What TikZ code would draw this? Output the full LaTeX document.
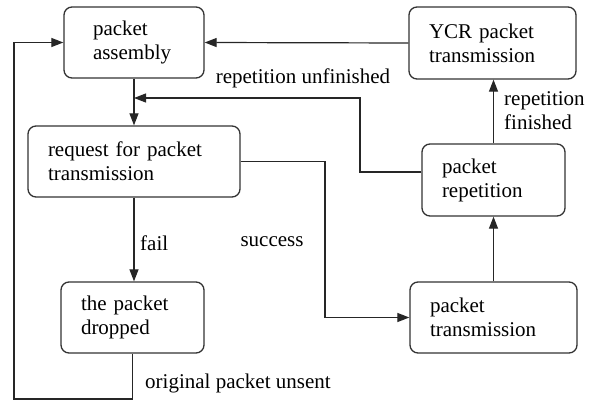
\documentclass[tikz,border=0pt]{standalone}
\usepackage{fontspec}
\setmainfont{Liberation Serif}
\usepackage{tikz}
\usetikzlibrary{arrows.meta, positioning}

\begin{document}
\begin{tikzpicture}[
    x=1pt, y=-1pt,
    blk/.style  ={rectangle, rounded corners=8pt, draw=black!80,
                  line width=1.3pt, fill=white,
                  align=left, inner xsep=20pt, inner ysep=2pt,
                  font=\fontsize{21}{24}\selectfont},
    lbl/.style  ={inner sep=0pt, align=left,
                  font=\fontsize{21}{24}\selectfont},
    arrow/.style={-{Triangle[length=12pt, width=9pt]}, line width=1.2pt, black!85}
]
\useasboundingbox (0,0) rectangle (599,403);

% ============================================================
% BOITES
% ============================================================

\node[blk, text width=82pt, inner xsep=29pt, minimum height=71pt] (asm)   at (134, 42.5)   {packet\\assembly};
\node[blk, text width=172pt, minimum height=71pt]                 (req)   at (134, 161.5)  {request for packet\\transmission};
\node[blk, text width=103pt, minimum height=71pt]                 (drop)  at (132.5, 317.5){the packet\\dropped};

\node[blk, text width=127pt, minimum height=72pt]                 (ycr)   at (492.5, 43)   {YCR packet\\transmission};
\node[blk, text width=103pt, minimum height=72pt]                 (rep)   at (493.5, 180)  {packet\\repetition};
\node[blk, text width=127pt, minimum height=71pt]                 (trans) at (493.5, 317.5){packet\\transmission};

% ============================================================
% POINTS DE PASSAGE
% ============================================================

\coordinate (join)  at (134, 98);
\coordinate (rbend) at (360, 98);
\coordinate (sbend) at (325, 317.5);
\coordinate (lbend) at (14, 399);

% ============================================================
% FLECHES
% ============================================================

% YCR -> assembly
\draw[arrow] (ycr.west)  -- (asm.east);

% assembly -> request
\draw[arrow] (asm.south) -- (req.north);

% repetition -> request (unfinished)
\draw[arrow] ([yshift=8pt]rep.west) -| (rbend) -- (join);

% repetition -> YCR (finished)
\draw[arrow] (rep.north) -- (rep.north |- ycr.south);

% request -> transmission (success)
\draw[arrow] (req.east)  -| (sbend) -- (trans.west);

% transmission -> repetition
\draw[arrow] (trans.north) -- (trans.north |- rep.south);

% request -> dropped (fail)
\draw[arrow] (req.south) -- (req.south |- drop.north);

% dropped -> assembly (unsent)
\draw[arrow] (drop.south) |- (lbend) |- (asm.west);

% ============================================================
% ETIQUETTES
% ============================================================

\node[lbl] (lunf)  at (303, 78)              {repetition unfinished};
\node[lbl, anchor=west] (lfin) at (504, 111) {repetition\\finished};
\node[lbl, anchor=west] (lfail) at (140, 243) {fail};
\node[lbl] (lsucc) at (272, 242)             {success};
\node[lbl, anchor=west] (luns) at (145, 383) {original packet unsent};

\end{tikzpicture}
\end{document}
